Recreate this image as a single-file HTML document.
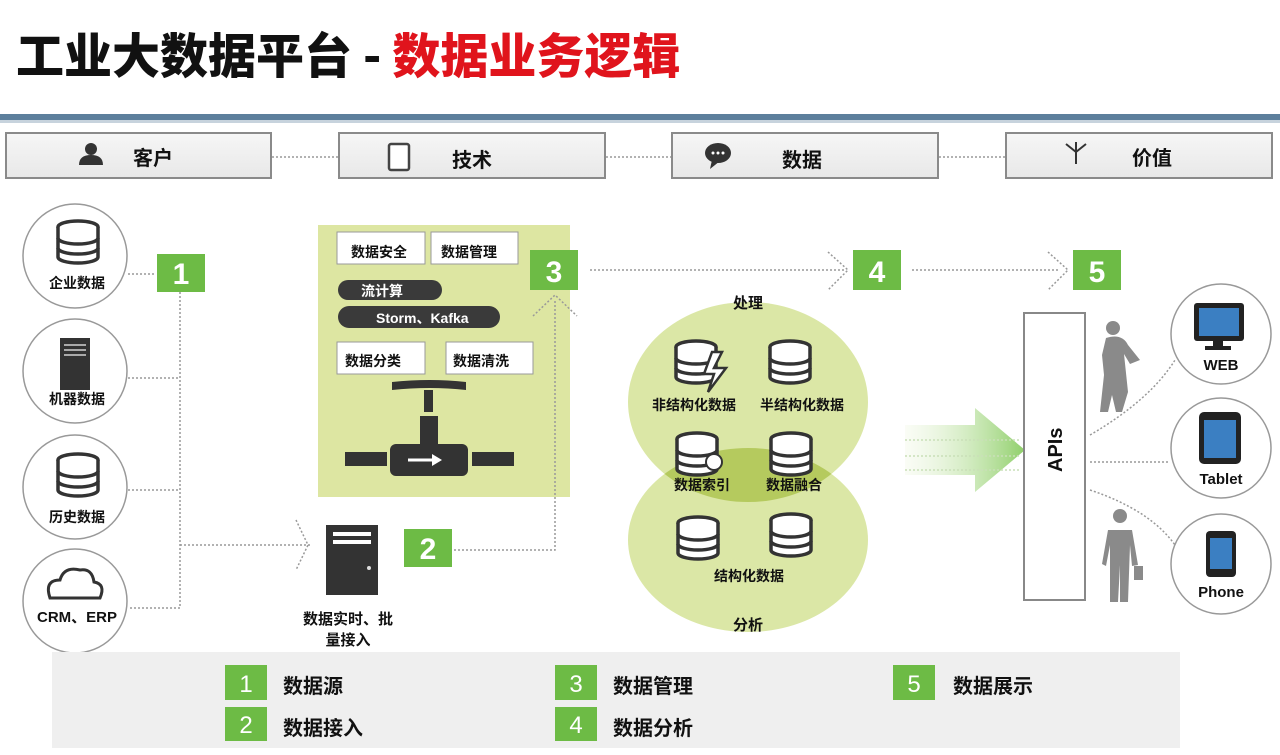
<!DOCTYPE html>
<html><head><meta charset="utf-8"><style>
html,body{margin:0;padding:0;background:#fff;}
svg{display:block;font-family:"Liberation Sans","Noto Sans CJK SC",sans-serif;font-weight:bold;}
</style></head><body>
<svg width="1280" height="755" viewBox="0 0 1280 755" xmlns="http://www.w3.org/2000/svg">
<defs>
<linearGradient id="ag" x1="0" x2="1"><stop offset="0" stop-color="#eef6e0" stop-opacity="0.3"/><stop offset="1" stop-color="#8fcf6a"/></linearGradient>
<linearGradient id="hb" x1="0" x2="0" y1="0" y2="1"><stop offset="0" stop-color="#f6f6f6"/><stop offset="1" stop-color="#e8e8e8"/></linearGradient>
<g id="db"><ellipse cx="0" cy="-15" rx="20" ry="6" fill="#fff" stroke="#333" stroke-width="3.5"/><path d="M-20 -15 V15 A20 6 0 0 0 20 15 V-15" fill="#fff" stroke="#333" stroke-width="3.5"/><path d="M-20 -4 A20 6 0 0 0 20 -4 M-20 6 A20 6 0 0 0 20 6" fill="none" stroke="#333" stroke-width="3.5"/></g>
</defs>
<!-- title -->
<text x="16" y="73" font-size="48" fill="#111" font-family="'Noto Sans CJK SC',sans-serif" font-weight="900">工业大数据平台 - <tspan fill="#e0141c">数据业务逻辑</tspan></text>
<rect x="0" y="114" width="1280" height="6" fill="#5d7f9c"/>
<rect x="0" y="120" width="1280" height="3" fill="#c7d3dd"/>
<!-- header boxes -->
<g stroke="#8a8a8a" stroke-width="2" fill="url(#hb)">
<rect x="6" y="133" width="265" height="45"/><rect x="339" y="133" width="266" height="45"/><rect x="672" y="133" width="266" height="45"/><rect x="1006" y="133" width="266" height="45"/>
</g>
<g stroke="#999" stroke-width="1.5" stroke-dasharray="2 2"><line x1="272" y1="157" x2="338" y2="157"/><line x1="606" y1="157" x2="671" y2="157"/><line x1="939" y1="157" x2="1005" y2="157"/></g>
<g font-size="20" fill="#111">
<text x="133" y="165">客户</text><text x="452" y="167">技术</text><text x="782" y="167">数据</text><text x="1132" y="165">价值</text></g>
<circle cx="91" cy="149" r="6" fill="#333"/><path d="M79 165 Q79 155 91 155 Q103 155 103 165Z" fill="#333"/>
<rect x="389" y="144" width="20" height="26" rx="2" fill="#fff" stroke="#444" stroke-width="2.5"/>
<ellipse cx="718" cy="153" rx="13" ry="10" fill="#333"/><path d="M712 160 L710 169 L720 161Z" fill="#333"/><g fill="#fff"><circle cx="713" cy="153" r="1.5"/><circle cx="718" cy="153" r="1.5"/><circle cx="723" cy="153" r="1.5"/></g>
<path d="M1076 164 V152 M1076 152 L1066 144 M1076 152 L1086 144 M1076 152 V142" stroke="#333" stroke-width="2" fill="none"/>
<!-- left circles -->
<g fill="#fff" stroke="#999" stroke-width="1.5">
<circle cx="75" cy="256" r="52"/><circle cx="75" cy="371" r="52"/><circle cx="75" cy="487" r="52"/><circle cx="75" cy="601" r="52"/></g>
<use href="#db" x="78" y="242"/><use href="#db" x="78" y="475"/>
<rect x="60" y="338" width="30" height="52" fill="#333"/><g fill="#aaa"><rect x="64" y="344" width="22" height="2"/><rect x="64" y="349" width="22" height="2"/><rect x="64" y="354" width="22" height="2"/></g>
<path d="M50 598 Q44 580 60 580 Q64 566 80 570 Q92 568 94 582 Q106 584 100 598Z" fill="none" stroke="#333" stroke-width="3"/>
<g font-size="14" fill="#111" text-anchor="middle">
<text x="77" y="288">企业数据</text><text x="77" y="404">机器数据</text><text x="77" y="522">历史数据</text><text x="77" y="622" font-size="15">CRM、ERP</text></g>
<!-- green panel -->
<rect x="318" y="225" width="252" height="272" fill="#dde6a2"/>
<g stroke="#999" stroke-width="1.5" stroke-dasharray="2 2" fill="none">
<path d="M128 274 H155 M180 292 V608 H128 M128 378 H180 M128 490 H180 M180 545 H310"/>
<path d="M296 520 L308 545 L296 570"/>
<path d="M450 550 H555 V300 M533 316 L555 295 L577 316"/>
<path d="M590 270 H845 M828 252 L848 270 L828 290 M912 270 H1060 M1048 252 L1068 270 L1048 290"/>
<path d="M1090 435 Q1150 400 1175 360 M1090 462 H1170 M1090 490 Q1150 510 1175 545"/>
</g>
<!-- numbered boxes -->
<g font-size="30" fill="#fff" text-anchor="middle">
<rect x="157" y="254" width="48" height="38" fill="#6dbb45"/><text x="181" y="284">1</text>
<rect x="404" y="529" width="48" height="38" fill="#6dbb45"/><text x="428" y="559">2</text>
<rect x="530" y="250" width="48" height="40" fill="#6dbb45"/><text x="554" y="282">3</text>
<rect x="853" y="250" width="48" height="40" fill="#6dbb45"/><text x="877" y="282">4</text>
<rect x="1073" y="250" width="48" height="40" fill="#6dbb45"/><text x="1097" y="282">5</text>
</g>
<!-- server -->
<rect x="326" y="525" width="52" height="70" fill="#333"/><rect x="333" y="532" width="38" height="4" fill="#fff"/><rect x="333" y="540" width="38" height="4" fill="#fff"/><circle cx="369" cy="568" r="2" fill="#ddd"/>
<text x="348" y="624" font-size="15" text-anchor="middle" fill="#111">数据实时、批</text><text x="348" y="645" font-size="15" text-anchor="middle" fill="#111">量接入</text>
<g fill="#fff" stroke="#999" stroke-width="1"><rect x="337" y="232" width="88" height="32"/><rect x="431" y="232" width="87" height="32"/><rect x="337" y="342" width="88" height="32"/><rect x="446" y="342" width="87" height="32"/></g>
<rect x="338" y="280" width="104" height="20" rx="10" fill="#3a3a3a"/><rect x="338" y="306" width="162" height="22" rx="11" fill="#3a3a3a"/>
<g font-size="14" fill="#111"><text x="351" y="257">数据安全</text><text x="441" y="257">数据管理</text><text x="345" y="366">数据分类</text><text x="453" y="366">数据清洗</text></g>
<g font-size="14" fill="#fff"><text x="361" y="296">流计算</text><text x="376" y="323">Storm、Kafka</text></g>
<!-- valve -->
<g fill="#333"><path d="M392 382 Q430 378 466 382 V390 Q430 386 392 390Z"/><rect x="424" y="390" width="9" height="22"/><rect x="420" y="416" width="18" height="32"/><rect x="390" y="444" width="78" height="32" rx="6"/><rect x="345" y="452" width="42" height="14"/><rect x="472" y="452" width="42" height="14"/></g>
<path d="M408 460 H436" stroke="#fff" stroke-width="3"/><path d="M432 454 L442 460 L432 466Z" fill="#fff"/>
<!-- circles -->
<ellipse cx="748" cy="402" rx="120" ry="100" fill="#dbe7a6"/>
<ellipse cx="748" cy="540" rx="120" ry="92" fill="#dbe7a6"/>
<clipPath id="cp"><ellipse cx="748" cy="402" rx="120" ry="100"/></clipPath>
<ellipse cx="748" cy="540" rx="120" ry="92" fill="#b5ca5e" clip-path="url(#cp)"/>
<text x="748" y="308" font-size="15" text-anchor="middle" fill="#111">处理</text>
<text x="748" y="630" font-size="15" text-anchor="middle" fill="#111">分析</text>
<use href="#db" x="696" y="362"/><use href="#db" x="790" y="362"/><use href="#db" x="697" y="454"/><use href="#db" x="791" y="454"/><use href="#db" x="698" y="538"/><use href="#db" x="791" y="535"/>
<path d="M712 352 L722 352 L714 368 L726 368 L708 392 L714 374 L704 374Z" fill="#fff" stroke="#333" stroke-width="2.5"/>
<circle cx="714" cy="462" r="8" fill="#fff" stroke="#333" stroke-width="2"/>
<g font-size="14" fill="#111" text-anchor="middle"><text x="694" y="410">非结构化数据</text><text x="802" y="410">半结构化数据</text><text x="702" y="490">数据索引</text><text x="794" y="490">数据融合</text><text x="749" y="581">结构化数据</text></g>
<!-- big arrow -->
<path d="M905 425 H975 V408 L1025 450 L975 492 V475 H905Z" fill="url(#ag)"/>
<g stroke="#c9dfb8" stroke-width="1.5" stroke-dasharray="2 2"><line x1="905" y1="440" x2="1020" y2="440"/><line x1="905" y1="456" x2="1020" y2="456"/><line x1="905" y1="470" x2="1020" y2="470"/></g>
<!-- APIs -->
<rect x="1024" y="313" width="61" height="287" fill="#fff" stroke="#888" stroke-width="2"/>
<text x="0" y="0" font-size="20" fill="#111" transform="translate(1062,472) rotate(-90)">APIs</text>
<!-- people -->
<g fill="#8a8a8a"><circle cx="1113" cy="328" r="7"/><path d="M1106 338 Q1122 333 1128 345 L1140 360 L1130 364 L1124 354 L1128 392 L1122 412 L1116 412 L1112 395 L1108 412 L1100 412 L1104 375 L1102 355Z"/>
<circle cx="1120" cy="516" r="7"/><path d="M1108 530 H1132 L1138 565 L1132 566 L1130 545 L1128 602 L1120 602 L1120 565 L1118 602 L1110 602 L1110 545 L1106 566 L1102 564Z"/><rect x="1134" y="566" width="9" height="14"/></g>
<!-- devices -->
<g fill="#fff" stroke="#999" stroke-width="1.5"><circle cx="1221" cy="334" r="50"/><circle cx="1221" cy="448" r="50"/><circle cx="1221" cy="564" r="50"/></g>
<rect x="1194" y="303" width="50" height="38" rx="3" fill="#222"/><rect x="1199" y="308" width="40" height="28" fill="#3b7fc2"/><rect x="1213" y="341" width="10" height="6" fill="#222"/><rect x="1205" y="346" width="26" height="4" fill="#222"/>
<rect x="1199" y="412" width="42" height="52" rx="5" fill="#222"/><rect x="1204" y="420" width="32" height="38" fill="#3b7fc2"/>
<rect x="1206" y="531" width="30" height="46" rx="4" fill="#222"/><rect x="1210" y="538" width="22" height="31" fill="#3b7fc2"/>
<g font-size="15" fill="#111" text-anchor="middle"><text x="1221" y="370">WEB</text><text x="1221" y="484">Tablet</text><text x="1221" y="597">Phone</text></g>
<!-- legend -->
<rect x="52" y="652" width="1128" height="96" fill="#efefef"/>
<g font-size="24" fill="#fff" text-anchor="middle" font-weight="normal">
<rect x="225" y="665" width="42" height="35" fill="#6dbb45"/><text x="246" y="692">1</text>
<rect x="225" y="707" width="42" height="34" fill="#6dbb45"/><text x="246" y="733">2</text>
<rect x="555" y="665" width="42" height="35" fill="#6dbb45"/><text x="576" y="692">3</text>
<rect x="555" y="707" width="42" height="34" fill="#6dbb45"/><text x="576" y="733">4</text>
<rect x="893" y="665" width="42" height="35" fill="#6dbb45"/><text x="914" y="692">5</text>
</g>
<g font-size="20" fill="#111"><text x="283" y="693">数据源</text><text x="283" y="735">数据接入</text><text x="613" y="693">数据管理</text><text x="613" y="735">数据分析</text><text x="953" y="693">数据展示</text></g>
</svg>
</body></html>
